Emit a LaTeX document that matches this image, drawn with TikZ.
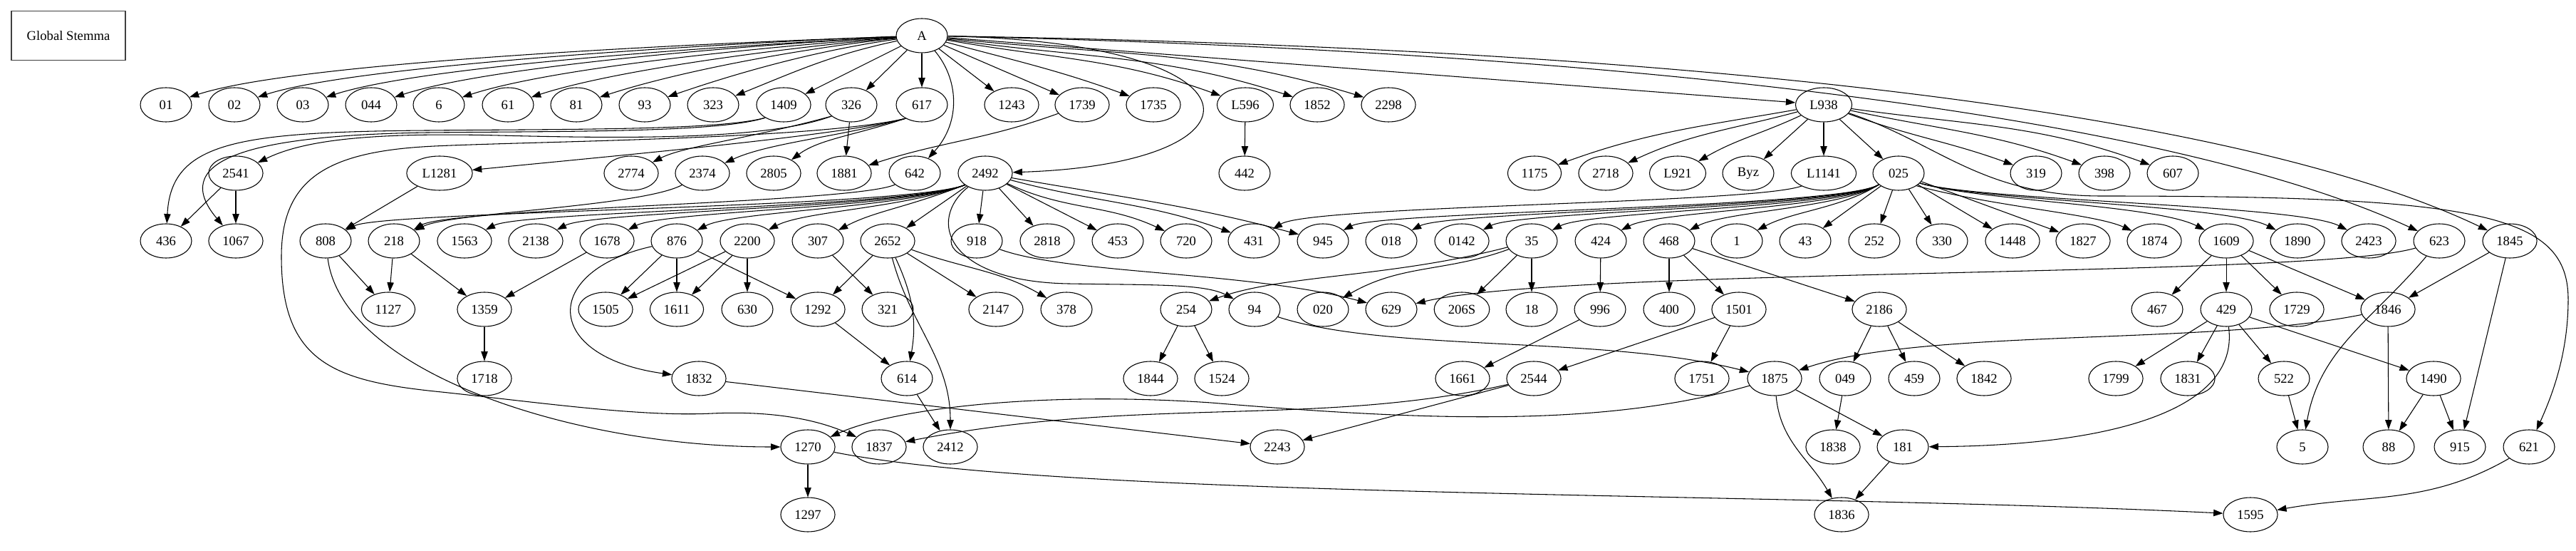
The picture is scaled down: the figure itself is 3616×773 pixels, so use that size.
\documentclass[tikz,border=0pt]{standalone}
\usepackage{fontspec}
\setmainfont{Liberation Serif}
\usetikzlibrary{shapes.geometric,arrows.meta}

\begin{document}
\begin{tikzpicture}[->,>={Triangle[length=10pt,width=7pt]},line width=0.8pt,x=0.75pt,y=0.75pt,
	wit node/.style={ellipse,draw,line width=0.8pt,minimum width=54pt,minimum height=36pt,inner xsep=6.2pt,inner ysep=2pt,font=\fontsize{14pt}{16pt}\selectfont},
	title node/.style={rectangle,draw=black!75,line width=1pt,minimum width=120pt,minimum height=52pt,font=\fontsize{14pt}{16pt}\selectfont}
]
	\useasboundingbox (0,0) rectangle (3616,-773);

	\def \ra {-147};
	\def \rb {-243};
	\def \rc {-338};
	\def \rd {-434};
	\def \re {-531};
	\def \rf {-627};
	\def \rg {-722};

	\node[title node] at (96,-50) (title) {Global Stemma};
	\node[wit node] at (1294,-50) (nA) {A};

	\foreach \l/\x in {01/233,02/329,03/425,044/521,6/616,61/713,81/809,93/905,323/1001,1409/1100,326/1195,617/1294,1243/1420,1739/1519,1735/1619,L596/1748,1852/1849,2298/1949,L938/2560}
		\node[wit node] at (\x,\ra) (n\l) {\l};
	\foreach \l/\x in {2541/331,L1281/617,2774/886,2374/986,2805/1086,1881/1185,642/1284,2492/1383,442/1747,1175/2154,2718/2254,L921/2355,Byz/2454,L1141/2560,025/2665,319/2858,398/2954,607/3050}
		\node[wit node] at (\x,\rb) (n\l) {\l};
	\foreach \l/\x in {436/233,1067/331,808/457,218/553,1563/652,2138/752,1678/852,876/950,2200/1049,307/1148,2652/1246,918/1371,2818/1470,453/1569,720/1665,431/1760,945/1857,018/1953,0142/2052,35/2150,424/2247,468/2343,1/2438,43/2534,252/2631,330/2726,1448/2825,1827/2924,1874/3024,1609/3125,1890/3225,2423/3325,623/3424,1845/3523}
		\node[wit node] at (\x,\rc) (n\l) {\l};
	\foreach \l/\x in {1127/545,1359/680,1505/850,1611/950,630/1049,1292/1148,321/1246,2147/1398,378/1497,254/1665,94/1761,020/1857,629/1953,206S/2052,18/2150,996/2246,400/2343,1501/2441,2186/2638,467/3028,429/3125,1729/3224,1846/3352}
		\node[wit node] at (\x,\rd) (n\l) {\l};
	\foreach \l/\x in {1718/680,1832/981,614/1273,1844/1615,1524/1715,1661/2053,2544/2153,1751/2389,1875/2491,049/2590,459/2687,1842/2785,1799/2970,1831/3071,522/3206,1490/3416}
		\node[wit node] at (\x,\re) (n\l) {\l};
	\foreach \l/\x in {1270/1134,1837/1234,2412/1334,2243/1793,1838/2573,181/2671,5/3232,88/3353,915/3453,621/3550}
		\node[wit node] at (\x,\rf) (n\l) {\l};
	\foreach \l/\x in {1297/1134,1836/2585,1595/3159}
		\node[wit node] at (\x,\rg) (n\l) {\l};

	\foreach \s/\t in {A/326,A/617,A/1243,A/1739,A/1409,A/L938,326/1881,L596/442,L938/Byz,L938/L1141,L938/025,
		2541/436,2541/1067,L1281/808,2492/2652,2492/918,2492/2818,2492/453,025/43,025/252,025/330,025/1448,025/1827,
		808/1127,218/1127,218/1359,1678/1359,876/1505,876/1611,876/1292,2200/1505,2200/1611,2200/630,307/321,2652/1292,2652/2147,
		35/206S,35/18,424/996,468/400,468/1501,468/2186,1609/467,1609/429,1609/1729,1609/1846,1845/1846,1845/915,
		1359/1718,1292/614,254/1844,254/1524,996/1661,1501/2544,1501/1751,2186/049,2186/459,2186/1842,
		429/1799,429/1831,429/522,429/1490,1846/88,614/2412,1832/2243,2544/2243,1875/181,049/1838,522/5,1490/88,1490/915,
		1270/1297,181/1836}
		\draw (n\s) -- (n\t);

	\foreach \s/\t/\o/\i/\lo in {A/01/182/18/0.45,A/02/182/18/0.45,A/03/183/18/0.5,A/044/183/18/0.55,A/6/184/18/0.6,A/61/185/18/0.65,
		A/81/186/18/0.75,A/93/188/19/0.85,A/323/192/22/1,A/1735/-15/160/1,A/L596/-10/160/1,A/1852/-8/162/1,A/2298/-6/163/1,
		1739/1881/200/18/1,L938/1175/190/20/1,L938/2718/195/25/1,L938/L921/205/30/1,L938/319/-20/160/1,L938/398/-12/160/1,L938/607/-8/160/1,
		2492/720/-25/155/1,2492/431/-15/160/1,2492/945/-10/165/1,
		35/020/200/30/1,2652/614/-65/80/1,2652/2412/-75/90/1,2652/378/-20/150/1,1875/1836/-85/120/1,623/5/-130/80/1,621/1595/210/10/1}
		\draw (n\s) to[out=\o,in=\i,looseness=\lo] (n\t);

	\foreach \t/\c in {307/1228,2200/1129,876/1030,1678/932,2138/832,1563/732,808/537}
		\draw (n2492.-150) .. controls (1270,-292) and (\c,-296) .. (n\t);
	\foreach \t/\c in {945/1937,018/2033,0142/2132,35/2230,424/2327,468/2423,1/2518}
		\draw (n025.-150) .. controls (2585,-292) and (\c,-296) .. (n\t);
	\foreach \t/\c in {1609/3025,1890/3125,2423/3225}
		\draw (n025.-25) .. controls (2780,-282) and (\c,-287) .. (n\t);

	\draw (nA) .. controls (1345,-110) and (1350,-170) .. (n642);
	\draw (nA) .. controls (1790,-60) and (1790,-230) .. (n2492);
	\draw (nA) .. controls (2400,-68) and (3150,-160) .. (n1845);
	\draw (nA) .. controls (2300,-72) and (3050,-165) .. (n623);
	\draw (n1409.-145) .. controls (1010,-183) and (800,-181) .. (600,-183) .. controls (330,-185) and (240,-200) .. (n436);
	\draw (n1409.-145) .. controls (1010,-186) and (800,-184) .. (600,-186) .. controls (330,-190) and (240,-230) .. (n1067);
	\draw (n326.-150) .. controls (1080,-195) and (900,-195) .. (700,-190) .. controls (500,-185) and (420,-200) .. (n2541);
	\draw (n326.-150) .. controls (1050,-195) and (960,-205) .. (n2774);
	\draw (n617.-140) .. controls (1180,-190) and (900,-215) .. (nL1281);
	\draw (n617.-140) .. controls (1180,-192) and (1080,-200) .. (n2374);
	\draw (n617.-140) .. controls (1200,-190) and (1150,-195) .. (n2805);
	\draw (n617.-140) .. controls (1150,-195) and (760,-198) .. (610,-205) .. controls (460,-212) and (395,-250) .. (395,-360)
		.. controls (395,-510) and (470,-535) .. (620,-550) .. controls (760,-565) and (900,-585) .. (1000,-580)
		.. controls (1090,-576) and (1150,-590) .. (n1837);
	\draw (n642.-150) .. controls (1200,-285) and (633,-292) .. (n218);
	\draw (n2374.-150) .. controls (900,-290) and (633,-298) .. (n218);
	\draw (n808) .. controls (480,-520) and (800,-627) .. (n1270);
	\draw (nL938) .. controls (2720,-200) and (2780,-275) .. (2950,-275) .. controls (3480,-275) and (3605,-300) .. (3605,-420)
		.. controls (3605,-500) and (3580,-560) .. (n621);
	\draw (nL1141.-150) .. controls (2460,-286) and (1840,-288) .. (n431);
	\draw (n025.-35) .. controls (2800,-290) and (2940,-300) .. (n1874);
	\draw (n623) .. controls (3250,-390) and (2200,-375) .. (n629);
	\draw (n429) .. controls (3145,-580) and (2950,-625) .. (n181);
	\draw (n1846) .. controls (3100,-485) and (2700,-460) .. (n1875);
	\draw (n1875) .. controls (2250,-600) and (2000,-590) .. (1700,-565) .. controls (1450,-548) and (1250,-575) .. (n1270);
	\draw (n2544) .. controls (1850,-600) and (1600,-555) .. (n1837);
	\draw (n2492) .. controls (1300,-310) and (1330,-395) .. (1500,-398) .. controls (1620,-400) and (1690,-398) .. (n94);
	\draw (n918) .. controls (1500,-385) and (1750,-380) .. (n629);
	\draw (n35) .. controls (1950,-390) and (1800,-385) .. (n254);
	\draw (n94) .. controls (1950,-495) and (2250,-470) .. (n1875);
	\draw (n876) .. controls (760,-380) and (760,-500) .. (n1832);
	\draw (n1270) .. controls (1500,-700) and (2500,-690) .. (n1595);
\end{tikzpicture}
\end{document}
